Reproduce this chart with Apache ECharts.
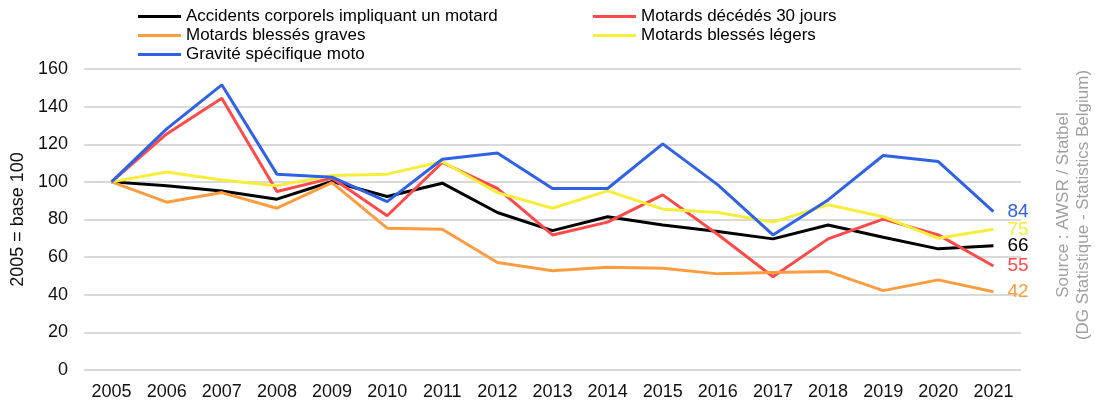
<!DOCTYPE html>
<html>
<head>
<meta charset="utf-8">
<script src="https://cdn.jsdelivr.net/npm/echarts@6/dist/echarts.min.js"></script>
<style>
html,body{margin:0;padding:0;background:#fff;}
#c{width:1095px;height:405px;}
</style>
</head>
<body>
<div id="c"></div>
<script>
var years = ['2005','2006','2007','2008','2009','2010','2011','2012','2013','2014','2015','2016','2017','2018','2019','2020','2021'];
var seriesNames = ['Accidents corporels impliquant un motard','Motards décédés 30 jours','Motards blessés graves','Motards blessés légers','Gravité spécifique moto'];
var accidents = [100, 98, 95.2, 90.8, 100.2, 92.2, 99.3, 83.7, 74.1, 81.5, 77.1, 73.6, 69.7, 77.1, 70.6, 64.4, 66];
var decedes   = [100, 125.5, 144.5, 94.9, 102, 82, 110.3, 96.6, 71.8, 78.6, 93.1, 72, 49.6, 69.7, 80.2, 71.8, 55.3];
var graves    = [100, 89.2, 94.3, 86, 99.6, 75.4, 74.8, 57.1, 52.8, 54.6, 54.1, 51.1, 51.8, 52.3, 42.2, 47.9, 41.6];
var legers    = [100, 105.3, 101, 98, 103.4, 104.1, 110.8, 94.3, 86, 95.2, 85.5, 83.7, 78.6, 87.8, 81.5, 70, 74.8];
var gravite   = [100, 128.2, 151.6, 104.1, 102.5, 89.5, 112, 115.3, 96.5, 96.5, 120.2, 98.4, 71.8, 90.4, 114, 110.8, 84.2];
var yTicks = [0, 20, 40, 60, 80, 100, 120, 140, 160];
var yAxisTitle = '2005 = base 100';
var sourceText = 'Source : AWSR / Statbel\n(DG Statistique - Statistics Belgium)';

var colors = ['#000000', '#ff4a4a', '#ff9c3f', '#f6ee3a', '#2f62e6'];
var dataSets = [accidents, decedes, graves, legers, gravite];
var FONT = 'Liberation Sans, Arial, sans-serif';

var chart = echarts.init(document.getElementById('c'), null, {renderer: 'canvas'});

var series = dataSets.map(function (d, i) {
  return {
    name: seriesNames[i],
    type: 'line',
    data: d,
    symbol: 'none',
    smooth: false,
    lineStyle: {width: 3, color: colors[i]},
    itemStyle: {color: colors[i]},
    z: 2 + i,
    endLabel: {
      show: true,
      distance: 14,
      color: colors[i],
      fontSize: 19,
      fontFamily: FONT,
      formatter: function (p) { return String(Math.round(p.value)); }
    },
    emphasis: {disabled: true}
  };
});

var legendCommon = {
  orient: 'vertical',
  top: 2,
  icon: 'rect',
  itemWidth: 43,
  itemHeight: 3,
  itemGap: 0,
  textStyle: {fontSize: 17, fontFamily: FONT, color: '#000', lineHeight: 19, padding: [0, 0, 0, 0]},
  selectedMode: false
};

chart.setOption({
  animation: false,
  color: colors,
  grid: {left: 84, right: 74, top: 69, bottom: 35, containLabel: false},
  legend: [
    Object.assign({}, legendCommon, {left: 133, data: [seriesNames[0], seriesNames[2], seriesNames[4]]}),
    Object.assign({}, legendCommon, {left: 588, data: [seriesNames[1], seriesNames[3]]})
  ],
  xAxis: {
    type: 'category',
    data: years,
    boundaryGap: true,
    axisLine: {show: false},
    axisTick: {show: false},
    axisLabel: {fontSize: 18, fontFamily: FONT, color: '#111', margin: 13}
  },
  yAxis: {
    type: 'value',
    min: yTicks[0],
    max: yTicks[yTicks.length - 1],
    interval: 20,
    name: yAxisTitle,
    nameLocation: 'middle',
    nameGap: 47,
    nameRotate: 90,
    nameTextStyle: {fontSize: 18, fontFamily: FONT, color: '#111'},
    axisLine: {show: false},
    axisTick: {show: false},
    axisLabel: {fontSize: 18, fontFamily: FONT, color: '#111', margin: 16},
    splitLine: {lineStyle: {color: '#d9d9d9', width: 2}}
  },
  graphic: [{
    type: 'text',
    x: 1073,
    y: 205,
    rotation: Math.PI / 2,
    style: {
      text: sourceText,
      fill: '#a0a0a0',
      fontSize: 17,
      fontFamily: FONT,
      lineHeight: 20,
      align: 'center',
      verticalAlign: 'middle'
    }
  }],
  series: series
});
</script>
</body>
</html>
